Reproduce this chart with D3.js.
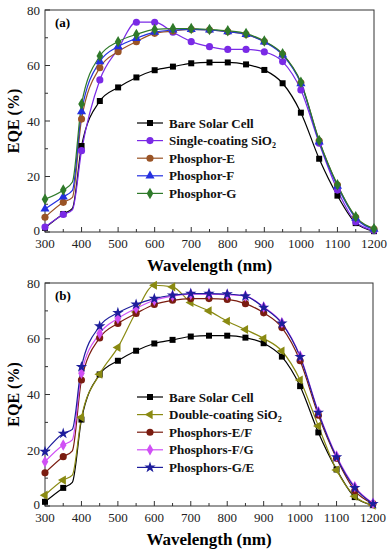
<!DOCTYPE html>
<html><head><meta charset="utf-8">
<script src="https://cdn.jsdelivr.net/npm/d3@7"></script>
<style>body{margin:0;background:#fff}svg{display:block}
svg text{font-family:"Liberation Serif","Times New Roman","DejaVu Serif",serif;}</style>
</head><body>
<script>
const wl = [300,350,375,400,450,500,550,600,650,700,750,800,850,900,950,1000,1050,1100,1150,1200];
const xTicks = [300,400,500,600,700,800,900,1000,1100,1200];
const yTicks = [0,20,40,60,80];

const bare   = [1.5,6.5,8.5,31,47.2,52.1,55.7,58.3,59.6,60.8,61.1,61.1,60.4,58.4,53.6,43,26.4,13.1,3.2,0.3];
const single = [1.8,6.3,8,29.3,54.8,66,75.6,75.6,72,68.6,66.8,65.8,65.8,64.9,61.4,51.2,32,15.1,3.6,0.5];
const phE    = [5.3,10.7,12.5,40.7,59.2,65,68.6,71.6,72.4,73,72.8,72.2,71.2,68.6,64,53.8,32.9,16.9,5.3,1.1];
const phF    = [8.3,12.7,15,43.4,61.4,66.8,69.8,72,72.8,73,72.8,72.2,71.2,68.5,63.8,53.5,32.5,16.5,5,1];
const phG    = [11.8,15.1,18,46.1,63.4,68.6,71.2,73,73.3,73.3,73,72.5,71.5,68.8,64.2,54,33,17,5.5,1.2];

const dbl    = [3.9,9.3,11.1,31.8,47.3,56.9,69.6,79.2,78.6,73,70,66.3,63.3,60.1,55.6,45.2,28.7,12.9,3.5,0.3];
const phEF   = [11.9,17.7,19.8,45.2,60.3,65.5,69.1,72.3,73.8,74.4,74.4,74.1,72.6,69.3,64,52.1,32.6,17.1,5.5,0.8];
const phFG   = [15.9,21.9,23.7,47.6,61.9,67.3,70.9,73.8,75.3,76,76,75.8,75.3,71.4,65.7,53.8,33.8,17.9,6.9,1];
const phGE   = [19.5,26,27.5,49.9,64.5,69.3,72.3,74.4,75.6,76.2,76.2,76,75.3,71.2,65.5,53.5,33.5,17.5,6.5,0.8];

const namesA = ["Bare Solar Cell","Single-coating SiO|2","Phosphor-E","Phosphor-F","Phosphor-G"];
const namesB = ["Bare Solar Cell","Double-coating SiO|2","Phosphors-E/F","Phosphors-F/G","Phosphors-G/E"];

const W = 392, H = 550;
const svg = d3.select("body").append("svg").attr("width",W).attr("height",H);

const panels = [
  {label:"(a)", top:10, bottom:232, left:45, right:374, legendY:123,
   series:[
    {name:namesA[0], vals:bare,   color:"#000000", sym:"square"},
    {name:namesA[1], vals:single, color:"#7a2ae6", sym:"circle"},
    {name:namesA[2], vals:phE,    color:"#9a5426", sym:"circle"},
    {name:namesA[3], vals:phF,    color:"#2430e0", sym:"triangle"},
    {name:namesA[4], vals:phG,    color:"#2f7a2a", sym:"diamond"}]},
  {label:"(b)", top:283, bottom:506, left:45, right:373, legendY:397,
   series:[
    {name:namesB[0], vals:bare,  color:"#000000", sym:"square"},
    {name:namesB[1], vals:dbl,   color:"#8a8a12", sym:"tleft"},
    {name:namesB[2], vals:phEF,  color:"#7a1c10", sym:"circle"},
    {name:namesB[3], vals:phFG,  color:"#d050f5", sym:"diamond"},
    {name:namesB[4], vals:phGE,  color:"#1e1e9c", sym:"star"}]}
];

function marker(g, sym, color, x, y){
  let type, size, rot=0;
  if(sym==="square"){type=d3.symbolSquare; size=36;}
  else if(sym==="circle"){type=d3.symbolCircle; size=40;}
  else if(sym==="triangle"){type=d3.symbolTriangle; size=36;}
  else if(sym==="tleft"){type=d3.symbolTriangle; size=36; rot=-90;}
  else if(sym==="diamond"){type=d3.symbolDiamond; size=38;}
  else {type=d3.symbolStar; size=40;}
  g.append("path").attr("d", d3.symbol().type(type).size(size)())
    .attr("transform",`translate(${x},${y}) rotate(${rot})`)
    .attr("fill",color).attr("stroke","none");
}

panels.forEach((p,pi)=>{
  const x = d3.scaleLinear().domain([300,1200]).range([p.left,p.right]);
  const y = d3.scaleLinear().domain([0,80]).range([p.bottom,p.top]);
  const g = svg.append("g");
  const cid = "clip"+pi;
  svg.append("clipPath").attr("id",cid).append("rect")
    .attr("x",p.left).attr("y",p.top).attr("width",p.right-p.left).attr("height",p.bottom-p.top);

  g.append("rect").attr("x",p.left).attr("y",p.top).attr("width",p.right-p.left)
   .attr("height",p.bottom-p.top).attr("fill","none").attr("stroke","#333").attr("stroke-width",1);

  d3.range(300,1201,50).forEach(v=>{
    const major = v%100===0;
    g.append("line").attr("x1",x(v)).attr("x2",x(v)).attr("y1",p.bottom).attr("y2",p.bottom-(major?5:3))
      .attr("stroke","#333");
  });
  xTicks.forEach(v=>{
    g.append("text").attr("x",x(v)).attr("y",p.bottom+16).attr("text-anchor","middle")
     .style("font-size","13px").attr("fill","#222").text(v);
  });
  d3.range(0,81,10).forEach(v=>{
    const major = v%20===0;
    g.append("line").attr("x1",p.left).attr("x2",p.left+(major?5:3)).attr("y1",y(v)).attr("y2",y(v))
      .attr("stroke","#333");
  });
  yTicks.forEach(v=>{
    g.append("text").attr("x",p.left-5).attr("y",y(v)+(v===0?3:4.5)).attr("text-anchor","end")
     .style("font-size","13px").attr("fill","#222").text(v);
  });

  g.append("text").attr("x",(p.left+p.right)/2).attr("y",p.bottom+39).attr("text-anchor","middle")
   .style("font-weight","bold").style("font-size","17px").text("Wavelength (nm)");
  g.append("text").attr("transform",`translate(19,${(p.top+p.bottom)/2}) rotate(-90)`)
   .attr("text-anchor","middle").style("font-weight","bold").style("font-size","16px")
   .text("EQE (%)");
  g.append("text").attr("x",p.left+10).attr("y",p.top+17)
   .style("font-weight","bold").style("font-size","13px").text(p.label);

  const line = d3.line().x((d,i)=>x(wl[i])).y(d=>y(d)).curve(d3.curveMonotoneX);
  const sg = g.append("g").attr("clip-path",`url(#${cid})`);
  p.series.forEach(s=>{
    sg.append("path").attr("d",line(s.vals)).attr("fill","none").attr("stroke",s.color).attr("stroke-width",1.2);
  });
  p.series.forEach(s=>{
    s.vals.forEach((v,i)=>{ if(wl[i]%50===0) marker(g, s.sym, s.color, x(wl[i]), y(v)); });
  });

  p.series.forEach((s,i)=>{
    const ly = p.legendY + i*17.6;
    g.append("line").attr("x1",137).attr("x2",163).attr("y1",ly).attr("y2",ly)
      .attr("stroke",s.color).attr("stroke-width",1.2);
    marker(g, s.sym, s.color, 150, ly);
    const parts = s.name.split("|");
    const t = g.append("text").attr("x",169).attr("y",ly+4.5)
      .style("font-weight","bold").style("font-size","13px").attr("fill","#111");
    t.append("tspan").text(parts[0]);
    if(parts[1]) t.append("tspan").style("font-size","8px").attr("dy",3).text(parts[1]);
  });
});
</script>
</body></html>
